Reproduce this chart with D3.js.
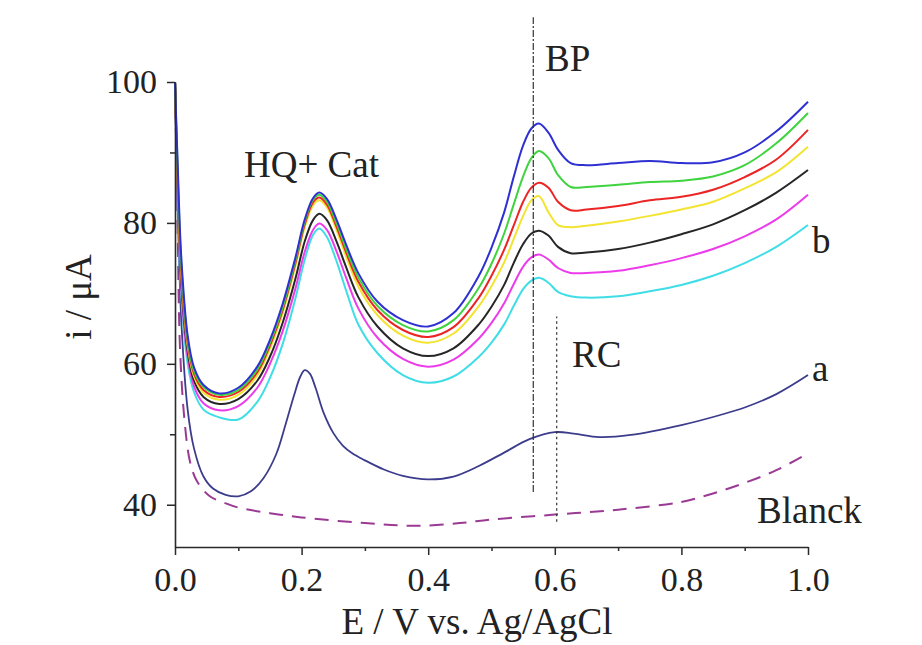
<!DOCTYPE html>
<html>
<head>
<meta charset="utf-8">
<script src="https://cdn.jsdelivr.net/npm/d3@7"></script>
<style>
  body { margin: 0; background: #fff; }
  svg { display: block; }
  text { font-family: "Liberation Serif", "Times New Roman", serif; fill: #222; }
</style>
</head>
<body>
<svg id="chart" width="922" height="645"></svg>
<script>
// Potential grid (V) shared by the seven modified-electrode voltammograms
const potentialGrid = [0, 0.004, 0.01, 0.02, 0.03, 0.045, 0.07, 0.1, 0.13, 0.15,
  0.17, 0.19, 0.205, 0.218, 0.228, 0.24, 0.255, 0.27, 0.29, 0.32,
  0.36, 0.40, 0.44, 0.48, 0.50, 0.52, 0.535, 0.55, 0.563, 0.575,
  0.59, 0.605, 0.625, 0.65, 0.70, 0.75, 0.80, 0.85, 0.90, 0.95, 1.0];

// Currents (µA), top trace to bottom trace ("b" family)
const currentBlue = [100, 89, 75, 64, 59.5, 57, 55.8, 56.6, 59.6, 63.4,
  68.5, 75, 80.5, 83.5, 84.3, 83.4, 80.5, 77, 72.8, 68.8,
  66.2, 65.3, 67.2, 72.5, 76.5, 81.5, 86.5, 91, 93.4, 94.1,
  92.8, 90.4, 88.5, 88.2, 88.5, 88.8, 88.5, 88.6, 90.0, 93.0, 97.2];
const currentGreen = [100, 88, 74, 63.5, 59, 56.7, 55.6, 56.3, 59.2, 63,
  68, 74.6, 80.2, 83.3, 84.0, 83.0, 80.0, 76.4, 72.2, 68.2,
  65.5, 64.6, 66.2, 70.8, 74.2, 78.5, 82.6, 86.6, 89.2, 90.2,
  89.2, 86.8, 85.1, 85.1, 85.4, 85.8, 86.0, 86.6, 88.2, 91.3, 95.6];
const currentRed = [100, 87, 73, 63, 58.6, 56.3, 55.3, 56.0, 58.8, 62.6,
  67.6, 74.2, 79.8, 82.9, 83.6, 82.6, 79.5, 75.9, 71.6, 67.6,
  64.8, 63.8, 65.2, 69.4, 72.5, 76.2, 79.6, 83.0, 85.0, 85.7,
  85.0, 83.0, 81.8, 81.9, 82.4, 83.2, 83.7, 84.7, 86.5, 89.0, 93.2];
const currentYellow = [100, 86, 72.5, 62.5, 58.2, 55.9, 54.9, 55.6, 58.4, 62.2,
  67.2, 73.8, 79.4, 82.5, 83.2, 82.2, 79.0, 75.3, 70.9, 66.9,
  64.0, 63.0, 64.3, 68.2, 71.0, 74.4, 77.7, 81.0, 83.2, 83.8,
  81.5, 79.7, 79.4, 79.6, 80.2, 81.0, 81.9, 83.0, 84.9, 87.2, 90.8];
const currentBlack = [100, 85, 71.5, 61.8, 57.6, 55.3, 54.3, 55.0, 57.6, 61.0,
  65.8, 72.0, 77.4, 80.4, 81.3, 80.4, 77.4, 73.8, 69.4, 65.3,
  62.2, 61.1, 62.2, 65.6, 68.1, 71.2, 74.3, 77.0, 78.5, 78.9,
  78.2, 76.6, 75.7, 75.8, 76.3, 77.2, 78.4, 79.8, 81.8, 84.3, 87.5];
const currentMagenta = [100, 84, 70.5, 61.0, 56.8, 54.4, 53.4, 54.0, 56.6, 60.0,
  64.6, 70.6, 75.9, 79.0, 79.9, 79.0, 76.0, 72.3, 67.8, 63.7,
  60.7, 59.6, 60.6, 63.6, 65.8, 68.6, 71.3, 73.8, 75.1, 75.5,
  74.8, 73.6, 72.9, 72.9, 73.2, 74.0, 75.0, 76.3, 78.1, 80.5, 84.0];
const currentCyan = [100, 83, 69.5, 60.0, 56.0, 53.5, 52.4, 52.1, 54.6, 58.0,
  62.8, 69.2, 74.8, 78.3, 79.2, 78.0, 74.6, 70.5, 65.5, 61.5,
  58.4, 57.3, 58.2, 61.0, 63.0, 65.6, 68.2, 70.6, 71.8, 72.2,
  71.5, 70.2, 69.6, 69.4, 69.6, 70.3, 71.2, 72.5, 74.3, 76.6, 79.7];

// Trace "a"
const potentialA = [0, 0.005, 0.01, 0.02, 0.03, 0.045, 0.06, 0.08, 0.1, 0.12,
  0.14, 0.16, 0.175, 0.188, 0.198, 0.205, 0.213, 0.222, 0.235, 0.25,
  0.265, 0.28, 0.30, 0.33, 0.36, 0.40, 0.44, 0.48, 0.52, 0.56,
  0.60, 0.63, 0.67, 0.72, 0.80, 0.86, 0.90, 0.95, 1.0];
const currentA = [100, 80, 66, 53.5, 48, 44, 42.3, 41.4, 41.2, 41.9,
  43.8, 47.2, 51.5, 55.5, 58.2, 59.1, 58.6, 56.6, 53.0, 50.2,
  48.4, 47.3, 46.3, 45.0, 44.1, 43.6, 44.0, 45.5, 47.4, 49.3,
  50.3, 50.1, 49.6, 49.9, 51.3, 52.7, 53.8, 55.7, 58.4];

// Blank electrode (dashed)
const potentialBlank = [0, 0.004, 0.008, 0.015, 0.024, 0.035, 0.055, 0.08, 0.1, 0.15,
  0.2, 0.3, 0.38, 0.45, 0.5, 0.6, 0.7, 0.8, 0.85, 0.9, 0.95, 0.99];
const currentBlank = [100, 80, 62, 52, 46, 43.3, 41.2, 40.2, 39.6, 38.8,
  38.2, 37.4, 37.0, 37.4, 37.9, 38.6, 39.3, 40.4, 41.6, 43.1, 44.9, 46.8];

// Axis ticks
const xMajorTicks = [0, 0.2, 0.4, 0.6, 0.8, 1.0];
const xMinorTicks = [0.1, 0.3, 0.5, 0.7, 0.9];
const yMajorTicks = [40, 60, 80, 100];
const yMinorTicks = [50, 70, 90];

// Peak markers: BP (dash-dot) and RC (dotted)
const bpPotential = 0.566, bpSpan = [41.8, 109.2];
const rcPotential = 0.603, rcSpan = [37.6, 66.7];

const svg = d3.select("#chart");
const x = d3.scaleLinear().domain([0, 1]).range([175, 808]);
const y = d3.scaleLinear().domain([34, 100]).range([547, 82]);

const family = [
  { values: currentCyan, color: "#3fdde6" },
  { values: currentMagenta, color: "#ec3bea" },
  { values: currentBlack, color: "#262626" },
  { values: currentYellow, color: "#f2e430" },
  { values: currentRed, color: "#ec2424" },
  { values: currentGreen, color: "#3fd43f" },
  { values: currentBlue, color: "#2f30d2" }
];

const line = d3.line()
  .x(d => x(d[0]))
  .y(d => y(d[1]))
  .curve(d3.curveCatmullRom.alpha(0.5));

// Blank (dashed)
svg.append("path")
  .attr("d", line(d3.zip(potentialBlank, currentBlank)))
  .attr("fill", "none")
  .attr("stroke", "#9a3a93")
  .attr("stroke-width", 2)
  .attr("stroke-dasharray", "14,9");

// Trace a
svg.append("path")
  .attr("d", line(d3.zip(potentialA, currentA)))
  .attr("fill", "none")
  .attr("stroke", "#3c3c8c")
  .attr("stroke-width", 1.8);

// Family b
svg.selectAll("path.fam")
  .data(family)
  .join("path")
  .attr("class", "fam")
  .attr("d", d => line(d3.zip(potentialGrid, d.values)))
  .attr("fill", "none")
  .attr("stroke", d => d.color)
  .attr("stroke-width", 2);

// Peak markers
svg.append("line")
  .attr("x1", x(bpPotential)).attr("x2", x(bpPotential))
  .attr("y1", y(bpSpan[0])).attr("y2", y(bpSpan[1]))
  .attr("stroke", "#333").attr("stroke-width", 1.2)
  .attr("stroke-dasharray", "7,2,2,2");
svg.append("line")
  .attr("x1", x(rcPotential)).attr("x2", x(rcPotential))
  .attr("y1", y(rcSpan[0])).attr("y2", y(rcSpan[1]))
  .attr("stroke", "#333").attr("stroke-width", 1.2)
  .attr("stroke-dasharray", "2.5,3");

// Axes
const axisColor = "#2a2a2a";
svg.append("g").attr("transform", `translate(0,${y(34)})`)
  .call(d3.axisBottom(x).tickValues(xMajorTicks).tickFormat(d3.format(".1f"))
    .tickSize(8).tickPadding(12).tickSizeOuter(0));
svg.append("g").attr("transform", `translate(0,${y(34)})`)
  .call(d3.axisBottom(x).tickValues(xMinorTicks).tickFormat("").tickSize(4).tickSizeOuter(0))
  .select(".domain").remove();

svg.append("g").attr("transform", `translate(${x(0)},0)`)
  .call(d3.axisLeft(y).tickValues(yMajorTicks).tickSize(8).tickPadding(10).tickSizeOuter(0));
svg.append("g").attr("transform", `translate(${x(0)},0)`)
  .call(d3.axisLeft(y).tickValues(yMinorTicks).tickFormat("").tickSize(5).tickSizeOuter(0))
  .select(".domain").remove();

svg.selectAll(".domain").attr("stroke", axisColor).attr("stroke-width", 1.6);
svg.selectAll(".tick line").attr("stroke", axisColor).attr("stroke-width", 1.5);
svg.selectAll(".tick text")
  .attr("font-family", '"Liberation Serif", serif')
  .attr("font-size", 34)
  .attr("fill", "#222");

// Axis titles
svg.append("text")
  .attr("x", 477).attr("y", 634)
  .attr("text-anchor", "middle")
  .attr("font-size", 37)
  .text("E / V vs. Ag/AgCl");
svg.append("text")
  .attr("transform", "translate(91,297) rotate(-90)")
  .attr("text-anchor", "middle")
  .attr("font-size", 37)
  .text("i / μA");

// Annotations
const notes = [
  { t: "HQ+ Cat", px: 244, py: 177 },
  { t: "BP", px: 545, py: 71 },
  { t: "RC", px: 572, py: 367 },
  { t: "b", px: 812, py: 253 },
  { t: "a", px: 812, py: 381 },
  { t: "Blanck", px: 757, py: 523 }
];
svg.selectAll("text.note")
  .data(notes)
  .join("text")
  .attr("class", "note")
  .attr("x", d => d.px)
  .attr("y", d => d.py)
  .attr("font-size", 37)
  .text(d => d.t);
</script>
</body>
</html>
